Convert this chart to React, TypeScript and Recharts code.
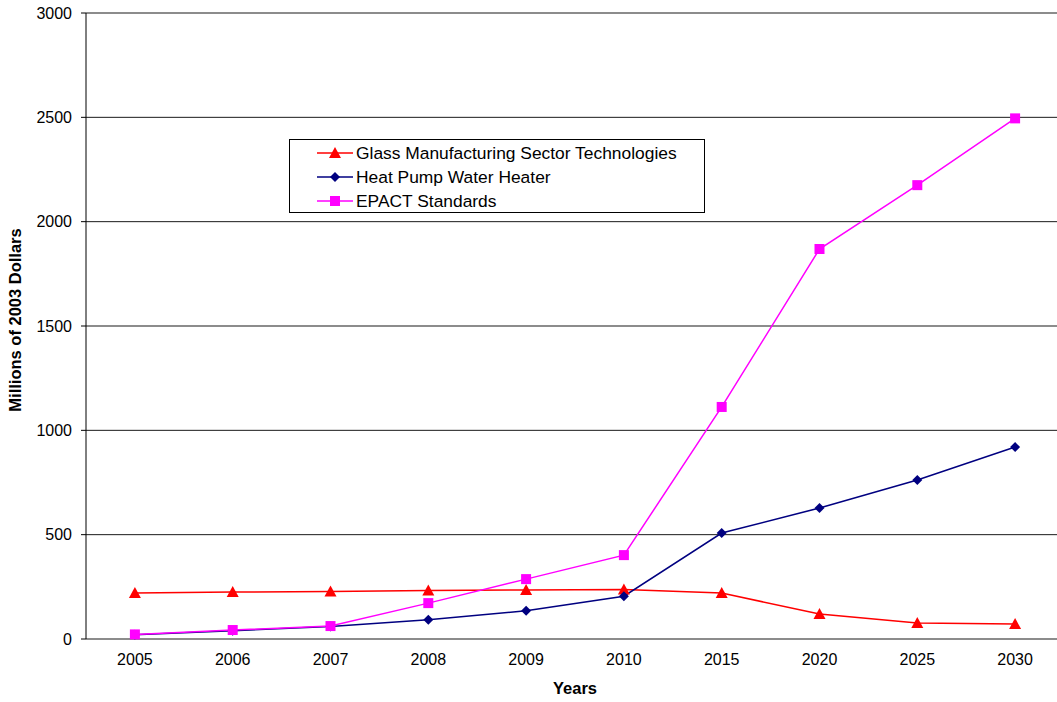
import { CartesianGrid, Label, Legend, Line, LineChart, XAxis, YAxis } from 'recharts'

const years = ['2005', '2006', '2007', '2008', '2009', '2010', '2015', '2020', '2025', '2030']
const glass = [220, 225, 228, 232, 235, 237, 220, 120, 77, 72]
const heatPump = [20, 40, 60, 92, 135, 205, 508, 628, 762, 920]
const epact = [22, 43, 62, 172, 287, 402, 1112, 1869, 2175, 2495]
const yTicks = [0, 500, 1000, 1500, 2000, 2500, 3000]
const boundaryTicks = [0, 1, 2, 3, 4, 5, 6, 7, 8, 9, 10]

const series = [
  { key: 'glass', name: 'Glass Manufacturing Sector Technologies', color: '#FF0000', shape: 'triangle' },
  { key: 'heatPump', name: 'Heat Pump Water Heater', color: '#000080', shape: 'diamond' },
  { key: 'epact', name: 'EPACT Standards', color: '#FF00FF', shape: 'square' },
]

const data = years.map((year, i) => ({ year, glass: glass[i], heatPump: heatPump[i], epact: epact[i] }))

const font = '"Liberation Sans", Arial, sans-serif'

function Marker({ cx, cy, shape, color }: { cx: number; cy: number; shape: string; color: string }) {
  if (cx == null || cy == null) return null
  if (shape === 'triangle') {
    return <polygon points={`${cx},${cy - 6} ${cx - 6},${cy + 5} ${cx + 6},${cy + 5}`} fill={color} />
  }
  if (shape === 'diamond') {
    return <polygon points={`${cx},${cy - 5} ${cx + 5},${cy} ${cx},${cy + 5} ${cx - 5},${cy}`} fill={color} />
  }
  return <rect x={cx - 5} y={cy - 5} width={10} height={10} fill={color} />
}

function LegendBox() {
  return (
    <div style={{ width: 414, height: 72, border: '1px solid #000', background: '#fff', fontFamily: font, fontSize: 17.4, color: '#000', lineHeight: '24px' }}>
      {series.map((s, i) => (
        <div key={s.key} style={{ display: 'flex', alignItems: 'center', height: 24, marginTop: i === 0 ? 1 : 0 }}>
          <svg width={40} height={20} style={{ marginLeft: 25, flex: 'none' }}>
            <line x1={2} y1={10} x2={38} y2={10} stroke={s.color} strokeWidth={1.5} />
            <Marker cx={20} cy={10} shape={s.shape} color={s.color} />
          </svg>
          <span style={{ marginLeft: 1, whiteSpace: 'nowrap' }}>{s.name}</span>
        </div>
      ))}
    </div>
  )
}

function YTitle({ viewBox }: any) {
  if (!viewBox) return null
  const x = viewBox.x + 15
  const y = viewBox.y + viewBox.height / 2 - 6
  return (
    <text x={x} y={y} transform={`rotate(-90 ${x} ${y})`} textAnchor="middle" dominantBaseline="central" fill="#000" fontSize={16.5} fontWeight="bold" fontFamily={font}>
      Millions of 2003 Dollars
    </text>
  )
}

export default function App() {
  return (
    <div style={{ position: 'absolute', left: 0, top: 0, width: 1057, height: 702, background: '#fff', overflow: 'hidden' }}>
      <LineChart width={1064} height={702} data={data} margin={{ top: 13, right: 0, bottom: 4, left: 0 }}>
        <CartesianGrid vertical={false} stroke="#000" strokeOpacity={0.9} />
        <XAxis xAxisId="bounds" type="number" domain={[0, 10]} ticks={boundaryTicks} allowDataOverflow tick={false} tickSize={6} height={0} axisLine={{ stroke: '#000' }} tickLine={{ stroke: '#000' }} />
        <XAxis xAxisId="cat" dataKey="year" scale="band" axisLine={false} tickLine={false} tickSize={0} tickMargin={15} height={59} tick={{ fill: '#000', fontSize: 16, fontFamily: font }} interval={0}>
          <Label value="Years" position="insideBottom" offset={4} style={{ fill: '#000', fontSize: 16.5, fontWeight: 'bold', fontFamily: font }} />
        </XAxis>
        <YAxis domain={[0, 3000]} ticks={yTicks} width={86} tickSize={5} tickMargin={9} axisLine={{ stroke: '#000' }} tickLine={{ stroke: '#000' }} tick={{ fill: '#000', fontSize: 16, fontFamily: font }}>
          <Label content={<YTitle />} position="insideLeft" />
        </YAxis>
        <Legend layout="vertical" align="center" verticalAlign="middle" content={<LegendBox />} wrapperStyle={{ position: 'absolute', left: 289, top: 139, width: 416, height: 74 }} />
        {series.map((s) => (
          <Line
            key={s.key}
            xAxisId="cat"
            dataKey={s.key}
            name={s.name}
            stroke={s.color}
            strokeWidth={1.5}
            isAnimationActive={false}
            dot={(p: any) => <Marker key={`${s.key}-${p.index}`} cx={p.cx} cy={p.cy} shape={s.shape} color={s.color} />}
            activeDot={false}
          />
        ))}
      </LineChart>
    </div>
  )
}
